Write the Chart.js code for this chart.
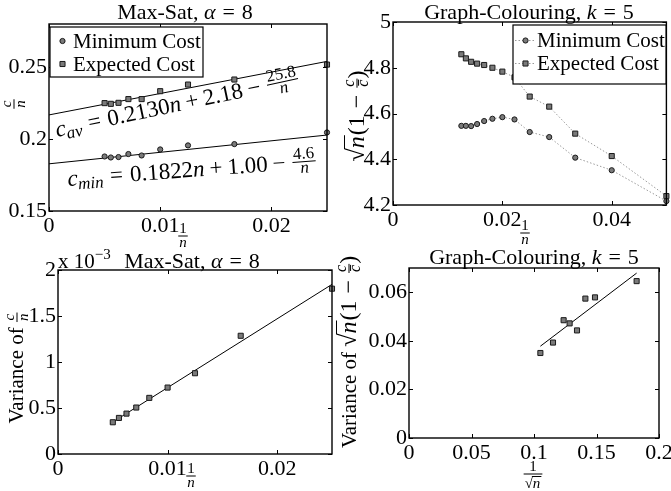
<!DOCTYPE html>
<html><head><meta charset="utf-8">
<script src="https://cdn.jsdelivr.net/npm/chart.js@4.4.0/dist/chart.umd.min.js"></script>
<style>
html,body{margin:0;padding:0;background:#fff;width:671px;height:491px;overflow:hidden}
canvas{position:absolute;left:0;top:0}
#pre{position:absolute;left:-999px;top:0;font-family:"Liberation Serif";font-size:20px}
#pre i{font-style:italic}
</style></head><body>
<div id="pre">Aa <i>Aa</i> √α</div>
<canvas id="c1" width="671" height="491"></canvas>
<canvas id="c2" width="671" height="491"></canvas>
<canvas id="c3" width="671" height="491"></canvas>
<canvas id="c4" width="671" height="491"></canvas>
<script>
// ---------- data ----------
const satInvN      = [0.005, 0.00556, 0.00625, 0.00714, 0.00833, 0.01, 0.0125, 0.01667, 0.025];
const satMinCost   = [0.1879, 0.1872, 0.1875, 0.1896, 0.1886, 0.1928, 0.1956, 0.1965, 0.2046];
const satExpCost   = [0.2250, 0.2245, 0.2252, 0.2278, 0.2278, 0.2333, 0.2379, 0.2414, 0.2518];
const satMinFitX   = [0, 0.025];
const satMinFitY   = [0.1828, 0.2028];
const satExpFitX   = [0, 0.025];
const satExpFitY   = [0.2168, 0.2540];

const gcInvN       = [0.0125, 0.01333, 0.01429, 0.01538, 0.01667, 0.01818, 0.02, 0.02222, 0.025, 0.02857, 0.03333, 0.04, 0.05];
const gcMinCost    = [4.546, 4.546, 4.545, 4.554, 4.567, 4.577, 4.584, 4.574, 4.519, 4.497, 4.407, 4.352, 4.217];
const gcExpCost    = [4.859, 4.841, 4.826, 4.818, 4.812, 4.800, 4.783, 4.758, 4.674, 4.630, 4.512, 4.414, 4.239];

const satVarInvN   = [0.005, 0.00556, 0.00625, 0.00714, 0.00833, 0.01, 0.0125, 0.01667, 0.025];
const satVariance  = [0.000345, 0.000392, 0.000439, 0.000505, 0.000610, 0.000722, 0.000878, 0.001285, 0.001797];
const satVarFitX   = [0.00477, 0.025];
const satVarFitY   = [0.00033, 0.001844];

const gcInvSqrtN   = [0.1051, 0.1152, 0.1237, 0.1285, 0.1344, 0.1411, 0.1488, 0.1821];
const gcVariance   = [0.0350, 0.0393, 0.0485, 0.0472, 0.0443, 0.0574, 0.0579, 0.0646];
const gcVarFitX    = [0.1051, 0.1821];
const gcVarFitY    = [0.0378, 0.0679];

const satXTicks    = [0, 0.01, 0.02];
const satYTicks    = [0.15, 0.2, 0.25];
const gcXTicks     = [0, 0.02, 0.04];
const gcYTicks     = [4.2, 4.4, 4.6, 4.8, 5];
const varXTicks    = [0, 0.01, 0.02];
const varYTicks    = [0, 0.0005, 0.001, 0.0015, 0.002];
const gcVarXTicks  = [0, 0.05, 0.1, 0.15, 0.2];
const gcVarYTicks  = [0, 0.02, 0.04, 0.06];

const seriesNames  = ['Minimum Cost', 'Expected Cost'];

// ---------- text helpers ----------
const W = 671, H = 491;
const SERIF = '"Liberation Serif", "DejaVu Serif", serif';
function fnt(r){ return (r.i ? 'italic ' : '') + (r.s || 21) + 'px ' + SERIF; }
function wOf(ctx, r){
  if (r.sp !== undefined) return r.sp;
  if (r.frac) return Math.max(wSeq(ctx, r.frac[0]), wSeq(ctx, r.frac[1])) + 2;
  if (r.sqrt){ ctx.font = fnt({s:r.s}); return ctx.measureText('\u221A').width + wSeq(ctx, r.sqrt) + 1; }
  ctx.font = fnt(r); return ctx.measureText(r.t).width;
}
function wSeq(ctx, runs){ let w = 0; for (const r of runs) w += wOf(ctx, r); return w; }
function drawSeq(ctx, runs, x, y){
  for (const r of runs){
    const w = wOf(ctx, r);
    if (r.sp !== undefined) { /* space */ }
    else if (r.frac){
      const bar = y - (r.a || 0);
      const wn = wSeq(ctx, r.frac[0]), wd = wSeq(ctx, r.frac[1]);
      drawSeq(ctx, r.frac[0], x + (w - wn) / 2, bar - (r.nu || 3));
      drawSeq(ctx, r.frac[1], x + (w - wd) / 2, bar + (r.de || 11));
      ctx.fillRect(x, bar - 0.5, w, 1);
    } else if (r.sqrt){
      ctx.font = fnt({s:r.s});
      const m = ctx.measureText('\u221A');
      ctx.fillText('\u221A', x, y);
      const top = y - m.actualBoundingBoxAscent;
      drawSeq(ctx, r.sqrt, x + m.width, y);
      ctx.fillRect(x + m.width - 1, top, w - m.width + 1, 1);
    } else {
      ctx.font = fnt(r);
      ctx.fillText(r.t, x, y + (r.dy || 0));
      if (r.over) ctx.fillRect(x + 1, y - (r.s || 21) * 0.62, w - 1, 1);
    }
    x += w;
  }
}
function drawRich(ctx, runs, x, y, align, rot){
  ctx.save();
  ctx.translate(x, y);
  if (rot) ctx.rotate(rot * Math.PI / 180);
  ctx.fillStyle = '#000'; ctx.textAlign = 'left'; ctx.textBaseline = 'alphabetic';
  const w = wSeq(ctx, runs);
  const x0 = align === 'center' ? -w / 2 : (align === 'right' ? -w : 0);
  drawSeq(ctx, runs, x0, 0);
  ctx.restore();
}

// ---------- text content ----------
const titleSat = [{t:'Max-Sat, ',s:22},{t:'\u03B1',i:true,s:22},{sp:7},{t:'=',s:22},{sp:7},{t:'8',s:22}];
const titleGc  = [{t:'Graph-Colouring, ',s:22},{t:'k',i:true,s:22},{sp:7},{t:'=',s:22},{sp:7},{t:'5',s:22}];
const fracInvN = {frac:[[{t:'1',s:15}],[{t:'n',i:true,s:15}]], a:0};
const fracCN   = (a) => ({frac:[[{t:'c',i:true,s:15}],[{t:'n',i:true,s:15}]], a:a});
const sqrtExpr = (a) => [{sqrt:[{t:'n',i:true,s:24}], s:24},{t:'(1',s:24},{sp:7},{t:'\u2212',s:24},{sp:7},
                        {frac:[[{t:'c',i:true,s:16}],[{t:'c',i:true,s:16,over:true}]], a:a},{t:')',s:24}];

// ---------- chart factory ----------
const fmt = v => String(parseFloat(v.toFixed(5)));
function pts(xs, ys){ return xs.map((x, i) => ({x:x, y:ys[i]})); }
const circleStyle = {pointStyle:'circle', pointRadius:2.6, pointBackgroundColor:'#7a7a7a', pointBorderColor:'#1a1a1a', pointBorderWidth:1, pointHoverRadius:2.6};
const squareStyle = {pointStyle:'rect', pointRadius:3.6, pointBackgroundColor:'#7a7a7a', pointBorderColor:'#1a1a1a', pointBorderWidth:1, pointHoverRadius:3.6};

function drawMarker(ctx, style, x, y){
  ctx.save();
  ctx.fillStyle = style.pointBackgroundColor; ctx.strokeStyle = style.pointBorderColor; ctx.lineWidth = 1;
  ctx.beginPath();
  if (style.pointStyle === 'circle') ctx.arc(x, y, style.pointRadius, 0, Math.PI * 2);
  else { const s = style.pointRadius * Math.SQRT1_2; ctx.rect(x - s, y - s, 2 * s, 2 * s); }
  ctx.fill(); ctx.stroke();
  ctx.restore();
}

const charts = [];
function makePanel(id, area, xr, yr, xt, yt, yFmt, datasets, legend, texts){
  const framePlugin = {
    id:'frame' + id,
    afterDraw(chart){
      const ctx = chart.ctx, a = chart.chartArea, xs = chart.scales.x, ys = chart.scales.y;
      ctx.save();
      ctx.strokeStyle = '#000';
      ctx.beginPath();
      for (const t of xs.ticks){ const p = Math.round(xs.getPixelForValue(t.value)) + 0.5;
        ctx.moveTo(p, a.bottom); ctx.lineTo(p, a.bottom - 4); ctx.moveTo(p, a.top); ctx.lineTo(p, a.top + 4); }
      for (const t of ys.ticks){ const p = Math.round(ys.getPixelForValue(t.value)) + 0.5;
        ctx.moveTo(a.left, p); ctx.lineTo(a.left + 4, p); ctx.moveTo(a.right, p); ctx.lineTo(a.right - 4, p); }
      ctx.lineWidth = 1; ctx.stroke();
      ctx.lineWidth = 1.4;
      ctx.strokeRect(a.left, a.top, a.right - a.left, a.bottom - a.top);
      if (legend){
        const b = legend.box;
        ctx.fillStyle = '#fff'; ctx.fillRect(b[0], b[1], b[2] - b[0], b[3] - b[1]);
        ctx.lineWidth = 1.2; ctx.strokeStyle = '#000'; ctx.strokeRect(b[0], b[1], b[2] - b[0], b[3] - b[1]);
        legend.rows.forEach(row => {
          const ds = chart.data.datasets[row.ds];
          if (legend.line){
            ctx.save(); ctx.strokeStyle = ds.borderColor; ctx.lineWidth = 1; ctx.setLineDash(ds.borderDash || []);
            ctx.beginPath(); ctx.moveTo(legend.line[0], row.y); ctx.lineTo(legend.line[1], row.y); ctx.stroke(); ctx.restore();
          }
          drawMarker(ctx, ds, legend.mx, row.y);
          ctx.fillStyle = '#000'; ctx.font = '21px ' + SERIF; ctx.textBaseline = 'middle'; ctx.textAlign = 'left';
          ctx.fillText(ds.label, legend.tx, row.y + 1);
        });
      }
      for (const tx of texts) drawRich(ctx, tx.runs, tx.x, tx.y, tx.align, tx.rot);
      ctx.restore();
    }
  };
  charts.push(new Chart(document.getElementById(id), {
    type:'scatter',
    data:{datasets:datasets},
    options:{
      responsive:false, animation:false, devicePixelRatio:1,
      layout:{padding:{left:0, top:area.t, right:W - area.r, bottom:0}},
      plugins:{legend:{display:false}, tooltip:{enabled:false}, title:{display:false}},
      scales:{
        x:{type:'linear', min:xr[0], max:xr[1],
           afterBuildTicks: s => { s.ticks = xt.map(v => ({value:v})); },
           afterFit: s => { s.height = H - area.b; s.paddingLeft = 0; s.paddingRight = 0; s.paddingTop = 0; s.paddingBottom = 0; },
           grid:{display:false, drawTicks:false}, border:{display:false},
           ticks:{color:'#000', font:{family:SERIF, size:22}, padding:2, autoSkip:false, maxRotation:0, callback: v => fmt(v)}},
        y:{type:'linear', min:yr[0], max:yr[1],
           afterBuildTicks: s => { s.ticks = yt.map(v => ({value:v})); },
           afterFit: s => { s.width = area.l; s.paddingLeft = 0; s.paddingRight = 0; s.paddingTop = 0; s.paddingBottom = 0; },
           grid:{display:false, drawTicks:false}, border:{display:false},
           ticks:{color:'#000', font:{family:SERIF, size:22}, padding:2, autoSkip:false, callback: v => yFmt(v)}}
      }
    },
    plugins:[framePlugin]
  }));
}

const fitLine = {showLine:true, pointRadius:0, borderColor:'#000', borderWidth:1, pointHoverRadius:0};
const annSub = 17, annMain = 23;

function buildAll(){
// Panel 1: Max-Sat cost
makePanel('c1', {l:49, t:24, r:327, b:211}, [0, 0.025], [0.15, 0.28], satXTicks, satYTicks, fmt, [
  Object.assign({label:seriesNames[0], data:pts(satInvN, satMinCost), clip:false}, circleStyle),
  Object.assign({label:seriesNames[1], data:pts(satInvN, satExpCost), clip:false}, squareStyle),
  Object.assign({label:'fit min', data:pts(satMinFitX, satMinFitY)}, fitLine),
  Object.assign({label:'fit av', data:pts(satExpFitX, satExpFitY)}, fitLine)
], {box:[50, 27, 203, 77], rows:[{ds:0, y:41}, {ds:1, y:64}], mx:62.5, tx:73}, [
  {runs:titleSat, x:185, y:19, align:'center'},
  {runs:[fracInvN], x:183, y:236, align:'center'},
  {runs:[fracCN(0)], x:14, y:104, align:'center', rot:-90},
  {runs:[{t:'c',i:true,s:annMain},{t:'av',i:true,s:annSub,dy:4},{sp:7},{t:'=',s:annMain},{sp:7},{t:'0.2130',s:annMain},{t:'n',i:true,s:annMain},{sp:5},{t:'+',s:annMain},{sp:5},{t:'2.18',s:annMain},{sp:5},{t:'\u2212',s:annMain},{sp:7},
         {frac:[[{t:'25.8',s:annSub}],[{t:'n',i:true,s:annSub}]], a:7}], x:57, y:137, align:'left', rot:-12},
  {runs:[{t:'c',i:true,s:annMain},{t:'min',i:true,s:annSub,dy:4},{sp:7},{t:'=',s:annMain},{sp:7},{t:'0.1822',s:annMain},{t:'n',i:true,s:annMain},{sp:5},{t:'+',s:annMain},{sp:5},{t:'1.00',s:annMain},{sp:5},{t:'\u2212',s:annMain},{sp:7},
         {frac:[[{t:'4.6',s:annSub}],[{t:'n',i:true,s:annSub}]], a:7}], x:68, y:186, align:'left', rot:-4.2}
]);

// Panel 2: Graph colouring cost
const dotted = {showLine:true, borderColor:'#9a9a9a', borderWidth:1, borderDash:[1.5, 2]};
makePanel('c2', {l:393, t:22, r:669, b:205}, [0, 0.05], [4.2, 5], gcXTicks, gcYTicks, fmt, [
  Object.assign({label:seriesNames[0], data:pts(gcInvN, gcMinCost), clip:false}, circleStyle, dotted),
  Object.assign({label:seriesNames[1], data:pts(gcInvN, gcExpCost), clip:false}, squareStyle, dotted)
], {box:[513, 25, 666, 84], rows:[{ds:0, y:40.5}, {ds:1, y:63.5}], mx:525.5, tx:537, line:[515, 534]}, [
  {runs:titleGc, x:529, y:19, align:'center'},
  {runs:[fracInvN], x:525, y:233, align:'center'},
  {runs:sqrtExpr(7), x:364, y:116, align:'center', rot:-90}
]);

// Panel 3: Max-Sat variance
makePanel('c3', {l:58, t:270, r:332, b:454}, [0, 0.025], [0, 0.002], varXTicks, varYTicks, v => fmt(v * 1000), [
  Object.assign({label:'Variance', data:pts(satVarInvN, satVariance), clip:false}, squareStyle),
  Object.assign({label:'fit', data:pts(satVarFitX, satVarFitY)}, fitLine)
], null, [
  {runs:titleSat, x:192, y:268, align:'center'},
  {runs:[{t:'x 10'},{t:'\u22123',s:15,dy:-9}], x:58, y:268, align:'left'},
  {runs:[fracInvN], x:191, y:476, align:'center'},
  {runs:[{t:'Variance of '}, fracCN(6)], x:23, y:368, align:'center', rot:-90}
]);

// Panel 4: Graph colouring variance
makePanel('c4', {l:409, t:268, r:659, b:438}, [0, 0.2], [0, 0.07], gcVarXTicks, gcVarYTicks, fmt, [
  Object.assign({label:'Variance', data:pts(gcInvSqrtN, gcVariance), clip:false}, squareStyle),
  Object.assign({label:'fit', data:pts(gcVarFitX, gcVarFitY)}, fitLine)
], null, [
  {runs:titleGc, x:534, y:264, align:'center'},
  {runs:[{frac:[[{t:'1',s:15}],[{sqrt:[{t:'n',i:true,s:15}], s:15}]], a:0, de:14}], x:533, y:474, align:'center'},
  {runs:[{t:'Variance of ',s:21}].concat(sqrtExpr(7)), x:356, y:352, align:'center', rot:-90}
]);
}
buildAll();
if (document.fonts && document.fonts.load) {
  Promise.all([
    document.fonts.load('21px "Liberation Serif"'),
    document.fonts.load('italic 21px "Liberation Serif"')
  ]).then(() => { charts.forEach(c => c.update('none')); }).catch(() => {});
}
</script>
</body></html>
